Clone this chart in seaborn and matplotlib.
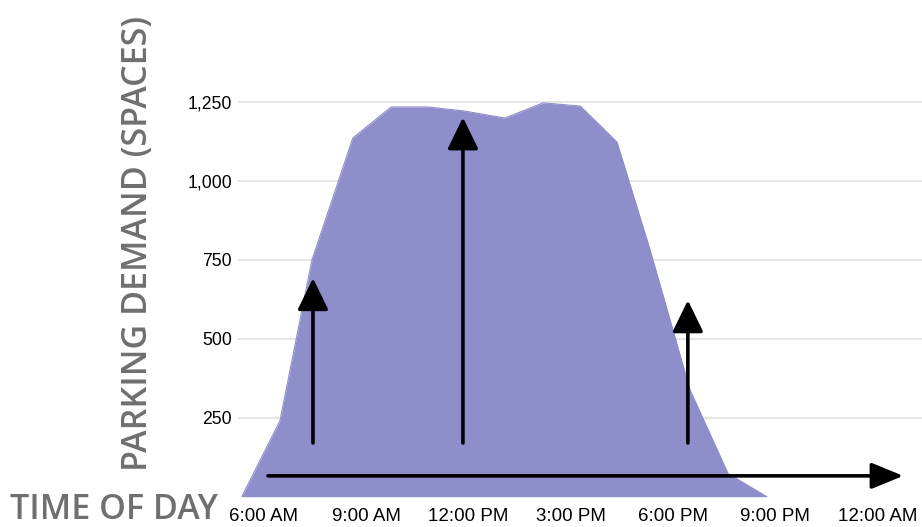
import matplotlib
matplotlib.use("Agg")
import matplotlib.pyplot as plt
from matplotlib.patches import ArrowStyle
import seaborn as sns
import pandas as pd

# Hourly parking demand profile (decimal hour of day, occupied spaces)
hours = [5.35, 6.47, 7.41, 8.61, 9.73, 10.81, 11.84, 13.07, 14.19,
         15.28, 16.36, 17.33, 18.50, 19.62, 20.76]
demand = [0, 240, 750, 1136, 1234, 1234, 1222, 1199, 1247,
          1237, 1123, 782, 339, 73, 0]

tick_hours = [6, 9, 12, 15, 18, 21, 24]
tick_labels = ["6:00 AM", "9:00 AM", "12:00 PM", "3:00 PM",
               "6:00 PM", "9:00 PM", "12:00 AM"]
y_ticks = [250, 500, 750, 1000, 1250]

# Upward arrows: (hour, start, end) in spaces; horizontal time arrow
up_arrows = [(7.44, 170, 692), (11.84, 170, 1201), (18.44, 170, 622)]
time_arrow = (6.12, 24.76, 66)

fill_color = "#8e8ecb"
title_gray = "#6f6f72"

df = pd.DataFrame({"hour": hours, "demand": demand})

sns.set_theme(style="white")
plt.rcParams["font.family"] = ["Liberation Sans", "DejaVu Sans"]

fig = plt.figure(figsize=(9.22, 5.27), dpi=100)
ax = fig.add_axes([238 / 922, 30.3 / 527, 684 / 922, 473.7 / 527])

sns.lineplot(data=df, x="hour", y="demand", ax=ax, color=fill_color,
             linewidth=0.8, zorder=2)
ax.fill_between(df["hour"], df["demand"], 0, color=fill_color,
                linewidth=0, zorder=2)

ax.set_xlim(5.24, 25.31)
ax.set_ylim(0, 1500)
ax.set_xticks(tick_hours)
ax.set_xticklabels(tick_labels)
ax.set_yticks(y_ticks)
ax.set_yticklabels([f"{v:,}" for v in y_ticks])
ax.tick_params(axis="both", length=0, colors="black")
ax.tick_params(axis="x", pad=8, labelsize=13.5)
ax.tick_params(axis="y", pad=4.3, labelsize=12.7)
ax.grid(axis="y", color="#e2e2e2", linewidth=1.2, zorder=0)
ax.grid(axis="x", visible=False)
ax.set_axisbelow(True)
ax.set_xlabel("")
ax.set_ylabel("")
for s in ax.spines.values():
    s.set_visible(False)

head = ArrowStyle("-|>", head_length=1.95, head_width=0.95)
for hx, y0, y1 in up_arrows:
    ax.annotate("", xy=(hx, y1), xytext=(hx, y0),
                arrowprops=dict(arrowstyle=head, mutation_scale=10,
                                color="black", lw=2.6,
                                shrinkA=0, shrinkB=0), zorder=5)
x0, x1, ty = time_arrow
ax.annotate("", xy=(x1, ty), xytext=(x0, ty),
            arrowprops=dict(arrowstyle=ArrowStyle("-|>", head_length=1.95,
                                                  head_width=0.8),
                            mutation_scale=10, color="black", lw=2.6,
                            shrinkA=0, shrinkB=0), zorder=5)

fig.text(138 / 922, 0.539, "PARKING DEMAND (SPACES)", rotation=90,
         ha="center", va="center", fontsize=24.5, color=title_gray,
         weight="semibold", family=["Open Sans", "DejaVu Sans"])
fig.text(10 / 922, 0.0, "TIME OF DAY", ha="left", va="bottom",
         fontsize=24.5, color=title_gray, weight="semibold",
         family=["Open Sans", "DejaVu Sans"])

fig.savefig("out.png", dpi=100)
